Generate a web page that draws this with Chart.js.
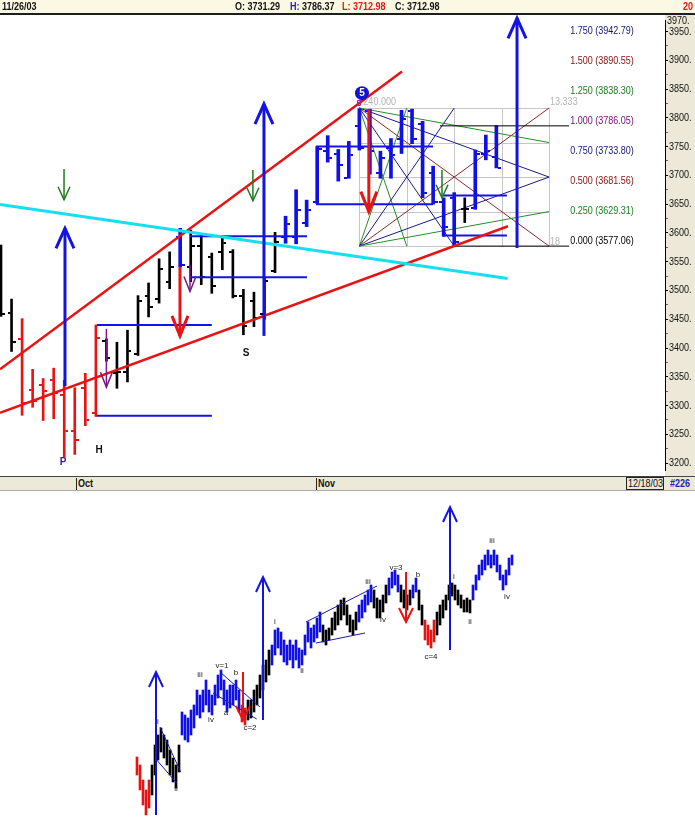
<!DOCTYPE html>
<html><head><meta charset="utf-8">
<script src="https://cdn.jsdelivr.net/npm/chart.js"></script>
<style>
html,body{margin:0;padding:0;background:#fff;}
body{width:695px;height:828px;position:relative;overflow:hidden;font-family:'Liberation Sans',Arial,sans-serif;}
.abs{position:absolute;white-space:nowrap;}
.nar{display:inline-block;transform:scaleX(0.82);transform-origin:0 0;}
#hdr{left:0;top:0;width:695px;height:13px;background:#fbf9e3;border-bottom:2px solid #1e1e1e;z-index:3;}
#hdr .t{position:absolute;top:0;font-size:11px;font-weight:bold;line-height:13px;color:#111;}
#yaxbg{left:665px;top:15px;width:30px;height:461px;background:#ece9d8;z-index:0;}
#topc{left:0;top:0;z-index:1;}
#lowc{left:130px;top:495px;z-index:1;}
#xbar{left:0;top:476px;width:695px;height:13px;background:#ece9d8;border-top:1px solid #444;border-bottom:1px solid #aaa;z-index:2;}
#xbar .t{position:absolute;top:0;font-size:11px;font-weight:bold;line-height:13px;color:#111;}
.sep{position:absolute;top:1px;width:1px;height:12px;background:#222;}
#top3970{left:667px;top:15px;font-size:11px;line-height:10px;z-index:2;color:#111;}
</style></head>
<body>
<div id="hdr" class="abs">
  <span class="t" style="left:2px"><span class="nar">11/26/03</span></span>
  <span class="t" style="left:235px"><span class="nar">O: 3731.29</span></span>
  <span class="t" style="left:290px"><span class="nar"><span style="color:#1a1ab8">H:</span> 3786.37</span></span>
  <span class="t" style="left:342px;color:#e01818"><span class="nar">L: 3712.98</span></span>
  <span class="t" style="left:395px"><span class="nar">C: 3712.98</span></span>
  <span class="t" style="left:683px;color:#e01818"><span class="nar">20</span></span>
</div>
<div id="yaxbg" class="abs"></div>
<div id="top3970" class="abs"><span class="nar">3970.</span></div>
<canvas id="topc" class="abs" width="695" height="476" style="width:695px;height:476px"></canvas>
<div id="xbar" class="abs">
  <div class="sep" style="left:76px"></div><span class="t" style="left:78px"><span class="nar">Oct</span></span>
  <div class="sep" style="left:316px"></div><span class="t" style="left:318px"><span class="nar">Nov</span></span>
  <span class="t" style="left:626px;top:0;width:36px;height:11px;border:1px solid #222;line-height:11px;font-weight:normal"><span class="nar" style="margin-left:1px">12/18/03</span></span>
  <span class="t" style="left:670px;color:#2323b0"><span class="nar">#226</span></span>
</div>
<canvas id="lowc" class="abs" width="400" height="333" style="width:400px;height:333px"></canvas>
<script>
// ================= TOP CHART DATA =================
const dates = ['09/22','09/23','09/24','09/25','09/26','09/29','09/30','10/01','10/02','10/03','10/06','10/07','10/08','10/09','10/10','10/13','10/14','10/15','10/16','10/17','10/20','10/21','10/22','10/23','10/24','10/27','10/28','10/29','10/30','10/31','11/03','11/04','11/05','11/06','11/07','11/10','11/11','11/12','11/13','11/14','11/17','11/18','11/19','11/20','11/21','11/24','11/25','11/26'];
const opens  = [3575,3461,3416,3327,3335,3344,3318,3255,3330,3287,3413,3356,3358,3390,3490,3485,3515,3593,3541,3577,3558,3567,3567,3491,3481,3459,3533,3593,3593,3618,3653,3742,3738,3695,3785,3812,3704,3747,3764,3812,3790,3704,3653,3661,3642,3644,3738,3731.29];
const highs  = [3579,3485,3451,3363,3347,3365,3344,3331,3356,3440,3416,3410,3431,3491,3513,3555,3567,3608,3605,3596,3565,3594,3571,3502,3497,3521,3601,3629,3675,3657,3750,3769,3745,3759,3816,3815,3742,3764,3813,3815,3794,3716,3661,3670,3661,3744,3770,3786.37];
const lows   = [3455,3394,3283,3297,3274,3277,3210,3215,3265,3281,3377,3330,3341,3387,3454,3478,3503,3541,3515,3510,3495,3536,3487,3423,3437,3450,3531,3582,3581,3611,3651,3723,3690,3695,3744,3702,3695,3695,3738,3755,3661,3650,3594,3577.06,3618,3641,3727,3712.98];
const closes = [3459,3411,3305,3308,3325,3322,3255,3241,3275,3418,3382,3358,3394,3481,3471,3538,3541,3545,3577,3524,3507,3582,3490,3438,3452,3517,3584,3615,3639,3639,3745,3730,3718,3735,3747,3743,3730,3735,3798,3764,3670,3653,3610,3584,3642,3738,3743,3712.98];
const barTrend = ('kk'+'rrrrrrrr'+'kkkkkkk'+'b'+'kkkkkkkkk'+'bbbbbbbbbbbbbbbbb'+'k'+'bbb').split('');

// trend lines: [barIndex, value] end points
const cyanTrend      = [[-0.095,3649.2],[48.07,3520.6]];
const upperRedTrend  = [[-0.095,3362.9],[38.05,3880.6]];
const lowerRedTrend  = [[-0.095,3287.4],[48.10,3611.5]];
// horizontal blue levels: [fromIndex, toIndex, value]
const blueLevels = [[9.1,20.0,3440.0],[9.1,20.0,3282.3],[17.93,29.03,3594.3],[17.93,29.03,3522.8],[29.89,40.99,3750.3],[29.89,40.99,3649.7],[41.94,48.0,3665.1],[41.94,48.0,3595.5]];
// fibonacci projection
const fibRatios = ['0.000','0.250','0.500','0.750','1.000','1.250','1.500','1.750'];
const fibLevels = [3577.06,3629.31,3681.56,3733.80,3786.05,3838.30,3890.55,3942.79];
const fibLines  = [[42.9,53.9,3577.06],[41.65,53.9,3786.05]];
const fibLabelIndex = 54;
// gann box
const gannStart = 34, gannBars = 18, gannBase = 3577.06, gannRange = 240;
// arrows: [barIndex, fromValue, toValue]
const blueUpArrows     = [[6.07,3333.7,3608.0],[24.95,3421.0,3824.0],[48.96,3573.7,3973.0]];
const redDownArrows    = [[16.98,3541.0,3421.0],[34.9,3815.0,3637.0]];
const greenDownArrows  = [[5.98,3710.9,3657.7],[23.9,3709.2,3656.0],[41.84,3709.2,3661.2]];
const purpleDownArrows = [[10.0,3433.2,3332.0],[17.93,3544.6,3498.3]];
const pointLabels = [['P',5.88,3201.7],['H',9.3,3222.3],['S',23.25,3390.3]];
const wave5Mark = [34.25,3842.9];

// ================= LOWER CHART DATA =================
const lowerHigh = [73,65,50,40,50,65,85,95,102,95, 90,80,72,65,85,118,115,112,120,125, 140,135,140,150,140,135,145,155,160,150, 140,145,145,150,140,125,122,130,130,140, 145,155,165,170,180,185,200,202,198,190, 185,190,185,190,182,180,195,208,202,205, 212,218,205,200,202,212,218,225,230,232, 225,215,210,218,225,230,235,240,245,240, 232,230,235,245,252,258,260,255,245,240, 235,240,245,252,240,225,210,205,200,210, 218,225,230,235,245,247,245,240,235,230, 232,230,245,255,265,270,275,280,275,280, 275,265,255,260,272,275];
const lowerLow  = [55,40,25,15,22,35,55,70,78,72, 65,55,48,42,58,95,90,88,95,102, 115,112,118,125,118,115,125,132,140,125, 118,122,125,130,118,108,105,110,112,118, 125,132,140,148,155,165,175,182,175,168, 165,170,162,170,162,165,175,188,182,188, 192,198,188,185,190,195,200,205,210,215, 205,198,195,200,208,212,218,225,228,222, 212,212,218,227,235,242,245,238,228,222, 220,225,232,238,220,205,190,185,182,188, 195,205,212,220,230,234,230,225,222,218, 218,217,230,240,250,255,260,265,262,265, 258,250,240,245,255,265];
const lowerTrend = ('rrrrr'+'kkkkkkkkkk'+'bbbbbbbbbbbbbbbbbbbb'+'rr'+'kkkkkkkk'+'bbbbbbbbbbbbbbbbb'+'kkkkkkkkkkkk'+'bbbbb'+'kkkkk'+'bbbb'+'kkkk'+'bb'+'kk'+'rrrr'+'kkkkkkkkkkkk'+'bbbbbbbbbbbbbb').split('');
const lowerChannels = [[[7.67,103],[14.57,58]],[[6.57,70],[13.23,47]],[[27.67,158],[41,123]],[[25.33,137],[39.9,111]],[[56.33,208],[80,244]],[[59.67,187],[76,197]]];
const lowerUpArrows = [[6.33,15,158],[42,110,253],[104.33,180,323]];
const lowerDownArrows = [[35.33,158,110],[89.67,258,208]];
const waveLabels = [['i',7,108],['ii',13,41],['iii',21,155],['iv',24.67,110],['v=1',28.33,164],['a',29.67,117],['b',33,157],['c=2',37.67,102],['i',46,208],['ii',55,159],['iii',77,248],['iv',82,210],['v=3',86.33,262],['b',93.67,255],['c=4',98,173],['i',105.67,253],['ii',111,208],['iii',118.33,289],['iv',123.33,233]];

// ================= STYLES =================
const COL = {k:'#000000', r:'#e81414', b:'#1010e6'};
const FONT = "'Liberation Sans',Arial,sans-serif";
const NARROW = 0.82;
const fibColors = ['#000000','#1c7c1c','#8b1010','#16167c','#7a0a7a','#1c7c1c','#8b1010','#16167c'];

function tickImg(color, side, half, len){
  const c = document.createElement('canvas');
  const w = Math.round(2*(half+len)); c.width = w; c.height = 2;
  const g = c.getContext('2d'); g.fillStyle = color;
  if(side==='open') g.fillRect(0,0,len,2); else g.fillRect(w-len,0,len,2);
  return c;
}
function seg(ctx,x1,y1,x2,y2){ctx.beginPath();ctx.moveTo(x1,y1);ctx.lineTo(x2,y2);ctx.stroke();}
function narrowText(ctx,t,x,y){ctx.save();ctx.translate(x,y);ctx.scale(NARROW,1);ctx.fillText(t,0,0);ctx.restore();}
function drawArrow(ctx,x,yFrom,yTo,hw,hh,color,lw){
  const dir = yTo<yFrom ? 1 : -1;
  ctx.strokeStyle=color; ctx.lineWidth=lw; ctx.lineCap='butt'; ctx.lineJoin='miter';
  seg(ctx,x,yFrom,x,yTo);
  ctx.beginPath(); ctx.moveTo(x-hw,yTo+dir*hh); ctx.lineTo(x,yTo); ctx.lineTo(x+hw,yTo+dir*hh); ctx.stroke();
}

// ================= TOP CHART =================
const topDatasets = [];
const groups = [{key:'k',thick:2},{key:'r',thick:2},{key:'b',thick:3}];
groups.forEach(g=>{
  const idx = dates.map((d,i)=>i).filter(i=>barTrend[i]===g.key);
  topDatasets.push({type:'bar', data: idx.map(i=>({x:i,y:[lows[i],highs[i]]})), backgroundColor:COL[g.key], barThickness:g.thick, grouped:false, order:6});
  topDatasets.push({type:'scatter', data: idx.map(i=>({x:i,y:opens[i]})), pointStyle: tickImg(COL[g.key],'open',g.thick/2,3), order:5});
  topDatasets.push({type:'scatter', data: idx.map(i=>({x:i,y:closes[i]})), pointStyle: tickImg(COL[g.key],'close',g.thick/2,3), order:5});
});
function lineDS(pts,color,width,order){
  return {type:'line', data:pts.map(p=>({x:p[0],y:p[1]})), borderColor:color, borderWidth:width, pointRadius:0, fill:false, tension:0, order:order};
}
blueLevels.forEach(l=>topDatasets.push(lineDS([[l[0],l[2]],[l[1],l[2]]],'#1414e0',2,3)));
fibLines.forEach(l=>topDatasets.push(lineDS([[l[0],l[2]],[l[1],l[2]]],'#000000',1,3)));
topDatasets.push(lineDS(cyanTrend,'#16e0ee',3,1));
topDatasets.push(lineDS(upperRedTrend,'#e81414',2.5,2));
topDatasets.push(lineDS(lowerRedTrend,'#e81414',2.5,2));

const topPlugin = {
  id:'topAnno',
  beforeDatasetsDraw(chart){
    const {ctx, scales:{x,y}} = chart;
    const X=v=>x.getPixelForValue(v), Y=v=>y.getPixelForValue(v);
    const x0=X(gannStart), x1=X(gannStart+gannBars), yb=Y(gannBase), yt=Y(gannBase+gannRange);
    ctx.save();
    ctx.strokeStyle='#c6c6c6'; ctx.lineWidth=1;
    for(let k=0;k<=4;k++){
      const xx=Math.round(x0+(x1-x0)*k/4)+0.5; seg(ctx,xx,yt,xx,yb);
      const yy=Math.round(yt+(yb-yt)*k/4)+0.5; seg(ctx,x0,yy,x1,yy);
    }
    const fans=[[0.25,1,'#2a8a2a'],[0.5,1,'#1a1a8a'],[1,1,'#8b2828'],[1,0.5,'#1a1a8a'],[1,0.25,'#2a8a2a']];
    fans.forEach(([fx,fy,c])=>{
      ctx.strokeStyle=c; ctx.lineWidth=1;
      seg(ctx,x0,yb,x0+(x1-x0)*fx,yb+(yt-yb)*fy);
      seg(ctx,x0,yt,x0+(x1-x0)*fx,yt+(yb-yt)*fy);
    });
    ctx.restore();
  },
  afterDatasetsDraw(chart){
    const {ctx, scales:{x,y}} = chart;
    const X=v=>x.getPixelForValue(v), Y=v=>y.getPixelForValue(v);
    ctx.save();
    blueUpArrows.forEach(a=>drawArrow(ctx,X(a[0]),Y(a[1]),Y(a[2]),9,20,'#1414e0',3));
    redDownArrows.forEach(a=>drawArrow(ctx,X(a[0]),Y(a[1]),Y(a[2]),8,20,'#e81414',3));
    greenDownArrows.forEach(a=>drawArrow(ctx,X(a[0]),Y(a[1]),Y(a[2]),6,13,'#1f7a1f',1.5));
    purpleDownArrows.forEach(a=>drawArrow(ctx,X(a[0]),Y(a[1]),Y(a[2]),6,15,'#7a1a8a',1.5));
    // fib labels
    ctx.font='11px '+FONT; ctx.textBaseline='middle'; ctx.textAlign='left';
    fibLevels.forEach((v,i)=>{ ctx.fillStyle=fibColors[i]; narrowText(ctx,fibRatios[i]+' ('+v.toFixed(2)+')', X(fibLabelIndex), Y(v)-5); });
    // gann labels
    ctx.fillStyle='#b4b4b4';
    narrowText(ctx,gannRange.toFixed(3), X(gannStart)+4, Y(gannBase+gannRange)-6);
    narrowText(ctx,(gannRange/gannBars).toFixed(3), X(gannStart+gannBars)+1, Y(gannBase+gannRange)-6);
    narrowText(ctx,String(gannBars), X(gannStart+gannBars)+1, Y(gannBase)-4);
    // wave 5 marker
    const cx=X(wave5Mark[0]), cy=Y(wave5Mark[1]);
    ctx.fillStyle='#1414d0'; ctx.beginPath(); ctx.arc(cx,cy,7,0,Math.PI*2); ctx.fill();
    ctx.fillStyle='#fff'; ctx.font='bold 10px '+FONT; ctx.textAlign='center'; ctx.fillText('5',cx,cy+0.5);
    ctx.fillStyle='#8a2aa0'; ctx.font='bold 9px '+FONT; ctx.fillText('5',cx-3,cy+10);
    // point labels
    ctx.font="bold 10px "+FONT;
    pointLabels.forEach(l=>{ ctx.fillStyle = l[0]==='P' ? '#3c1e8c' : '#111'; ctx.fillText(l[0],X(l[1]),Y(l[2])); });
    ctx.restore();
  },
  afterDraw(chart){
    const {ctx, scales:{y}} = chart;
    ctx.save();
    ctx.font='11px '+FONT; ctx.fillStyle='#111'; ctx.textAlign='left'; ctx.textBaseline='middle';
    y.ticks.forEach(t=>{ if(t.value%50===0) narrowText(ctx, t.value+'.', y.left+4, y.getPixelForValue(t.value)); });
    ctx.restore();
  }
};

new Chart(document.getElementById('topc'),{
  type:'scatter',
  data:{datasets:topDatasets},
  options:{
    responsive:false, animation:false, devicePixelRatio:1, events:[],
    layout:{padding:{top:20,left:0,right:0,bottom:0},autoPadding:false},
    plugins:{legend:{display:false},tooltip:{enabled:false}},
    scales:{
      x:{type:'linear',display:false,min:-0.095,max:63.0,offset:false},
      y:{type:'linear',position:'right',min:3188,max:3970,beginAtZero:false,
         afterFit(s){s.width=30;},
         border:{display:true,color:'#000',width:1},
         grid:{drawOnChartArea:false,tickLength:3,color:'#000',tickColor:c=>(c.tick&&c.tick.value%50===0)?'#000':'#666'},
         ticks:{stepSize:25,includeBounds:false,autoSkip:false,padding:0,color:'rgba(0,0,0,0)',font:{family:FONT,size:10},callback:()=>''}
      }
    }
  },
  plugins:[topPlugin]
});

// ================= LOWER CHART =================
const lowDatasets = [];
['k','r','b'].forEach(key=>{
  const idx = lowerHigh.map((v,i)=>i).filter(i=>lowerTrend[i]===key);
  lowDatasets.push({type:'bar', data: idx.map(i=>({x:i,y:[lowerLow[i],lowerHigh[i]]})), backgroundColor:COL[key], barThickness:2, grouped:false, order:5});
});
lowerChannels.forEach(c=>lowDatasets.push(lineDS(c,'#1a1aa8',1,2)));

const lowPlugin = {
  id:'lowAnno',
  afterDatasetsDraw(chart){
    const {ctx, scales:{x,y}} = chart;
    const X=v=>x.getPixelForValue(v), Y=v=>y.getPixelForValue(v);
    ctx.save();
    lowerUpArrows.forEach(a=>drawArrow(ctx,X(a[0]),Y(a[1]),Y(a[2]),7,15,'#1414e0',2));
    lowerDownArrows.forEach(a=>drawArrow(ctx,X(a[0]),Y(a[1]),Y(a[2]),7,14,'#e81414',2));
    ctx.font="8px "+FONT; ctx.textAlign='center'; ctx.textBaseline='middle'; ctx.fillStyle='#222';
    waveLabels.forEach(l=>ctx.fillText(l[0],X(l[1]),Y(l[2])));
    ctx.restore();
  }
};
new Chart(document.getElementById('lowc'),{
  type:'scatter',
  data:{datasets:lowDatasets},
  options:{
    responsive:false, animation:false, devicePixelRatio:1, events:[],
    layout:{padding:0,autoPadding:false},
    plugins:{legend:{display:false},tooltip:{enabled:false}},
    scales:{
      x:{type:'linear',display:false,min:-2.333,max:131,offset:false},
      y:{type:'linear',display:false,min:2,max:335,beginAtZero:false}
    }
  },
  plugins:[lowPlugin]
});
</script>
</body></html>
